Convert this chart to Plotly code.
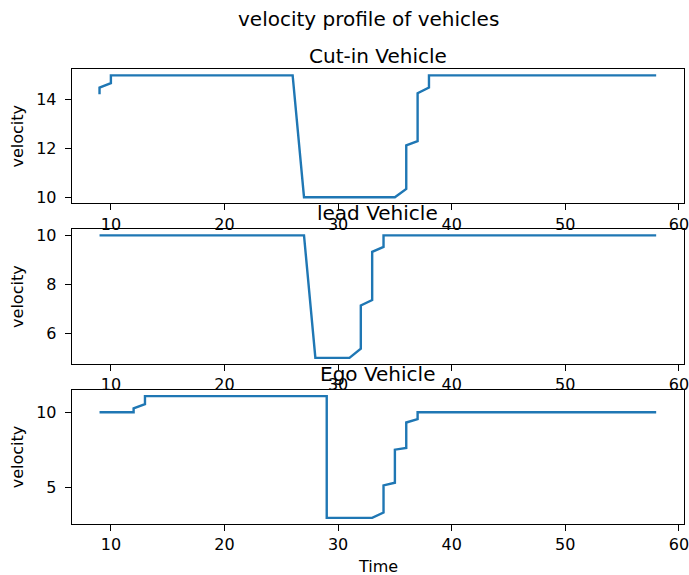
import plotly.graph_objects as go

# ---- data ----
cutin_t = [9, 9, 10, 10, 26, 27, 35, 36, 36, 37, 37, 38, 38, 58]
cutin_v = [14.23, 14.5, 14.68, 15, 15, 10, 10, 10.34, 12.13, 12.3, 14.27, 14.5, 15, 15]

lead_t = [9, 27, 28, 31, 32, 32, 33, 33, 34, 34, 58]
lead_v = [10, 10, 5, 5, 5.38, 7.14, 7.36, 9.33, 9.53, 10, 10]

ego_t = [9, 12, 12, 13, 13, 29, 29, 33, 34, 34, 35, 35, 36, 36, 37, 37, 58]
ego_v = [10, 10, 10.26, 10.53, 11.07, 11.07, 3, 3, 3.36, 5.15, 5.33, 7.52, 7.63, 9.32, 9.54, 10, 10]

titles = ["Cut-in Vehicle", "lead Vehicle", "Ego Vehicle"]
suptitle = "velocity profile of vehicles"
x_label = "Time"
y_label = "velocity"
x_ticks = [10, 20, 30, 40, 50, 60]
y_ticks = [[10, 12, 14], [6, 8, 10], [5, 10]]

W, H = 689, 575
FONT = "DejaVu Sans"
BLUE = "#1f77b4"

# pixel layout of the three axes boxes
x0, x1 = 71.7, 684.0
boxes = [(69.3, 203.3), (229.3, 364.0), (390.0, 524.0)]

def py(p):
    return 1 - p / H

fig = go.Figure()
series = [(cutin_t, cutin_v), (lead_t, lead_v), (ego_t, ego_v)]
for i, (t, v) in enumerate(series):
    sfx = "" if i == 0 else str(i + 1)
    fig.add_trace(go.Scatter(x=t, y=v, mode="lines",
                             line=dict(color=BLUE, width=2.4),
                             xaxis="x" + sfx, yaxis="y" + sfx,
                             showlegend=False, hoverinfo="skip"))

def yrange(v):
    lo, hi = min(v), max(v)
    m = (hi - lo) * 0.05
    return [lo - m, hi + m]

xmin, xmax = min(cutin_t + lead_t + ego_t), max(cutin_t + lead_t + ego_t)
xm = (xmax - xmin) * 0.05
xr = [xmin - xm, xmax + xm]

common = dict(showline=True, mirror=True, linecolor="black", linewidth=1,
              ticks="outside", ticklen=6, tickwidth=1, tickcolor="black",
              showgrid=False, zeroline=False, automargin=False,
              ticklabeloverflow="allow",
              tickfont=dict(family=FONT, size=16, color="black"))

layout = dict(width=W, height=H, margin=dict(l=0, r=0, t=0, b=0),
              paper_bgcolor="white", plot_bgcolor="white",
              font=dict(family=FONT, color="black"))

for i, (top, bot) in enumerate(boxes):
    sfx = "" if i == 0 else str(i + 1)
    v = series[i][1]
    xa = dict(common, domain=[x0 / W, x1 / W], range=xr, tickvals=x_ticks,
              anchor="y" + sfx)
    ya = dict(common, domain=[py(bot), py(top)], range=yrange(v),
              tickvals=y_ticks[i], anchor="x" + sfx, ticklabelstandoff=5,
              title=dict(text=y_label, font=dict(family=FONT, size=16, color="black"), standoff=8))
    layout["xaxis" + sfx] = xa
    layout["yaxis" + sfx] = ya

annotations = [dict(text=suptitle, x=368 / W, y=py(19), xref="paper", yref="paper",
                    showarrow=False, xanchor="center", yanchor="middle",
                    font=dict(family=FONT, size=20, color="black"))]
title_centres = [56, 213, 374]
for i, txt in enumerate(titles):
    annotations.append(dict(text=txt, x=(x0 + x1) / 2 / W, y=py(title_centres[i]),
                            xref="paper", yref="paper", showarrow=False,
                            xanchor="center", yanchor="middle",
                            font=dict(family=FONT, size=20, color="black")))
annotations.append(dict(text=x_label, x=(x0 + x1) / 2 / W, y=py(566),
                        xref="paper", yref="paper", showarrow=False,
                        xanchor="center", yanchor="middle",
                        font=dict(family=FONT, size=16, color="black")))
layout["annotations"] = annotations

fig.update_layout(**layout)
fig.write_html("out.html", config={"displayModeBar": False},
               post_script="document.body.style.margin='0';document.body.style.overflow='hidden';")
